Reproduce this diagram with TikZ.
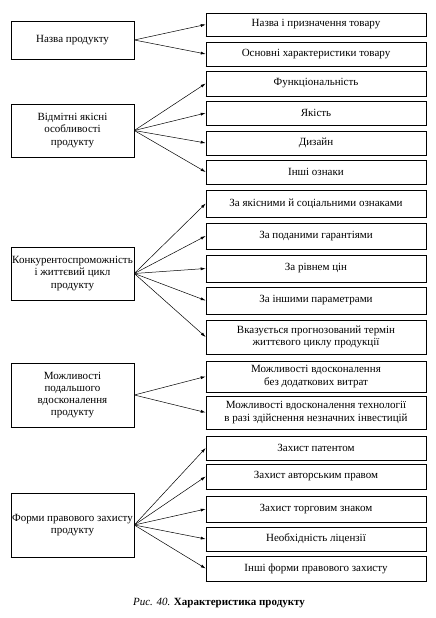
\documentclass[tikz,border=0pt]{standalone}
\usepackage{fontspec}
\setmainfont{Liberation Serif}
\usetikzlibrary{arrows.meta}
\begin{document}
\begin{tikzpicture}[x=1pt,y=-1pt,
  box/.style={draw, line width=0.6pt, inner sep=0pt, align=center, font=\fontsize{11}{12.2}\selectfont},
  lbox/.style={box, minimum width=123pt},
  rbox/.style={box, minimum width=220pt},
  arr/.style={-{Latex[length=5pt,width=3pt]}, line width=0.5pt},
  edgeshade/.style={line width=1.3pt}]
\useasboundingbox (0,0) rectangle (436,618);
% left boxes
\node[lbox, minimum height=38pt] (L1) at (72.5,40) {Назва продукту};
\node[lbox, minimum height=53pt] (L2) at (72.5,130.5) {Відмітні якісні\\особливості\\продукту};
\node[lbox, minimum height=53pt] (L3) at (72.5,273.5) {Конкурентоспроможність\\і життєвий цикл\\продукту};
\node[lbox, minimum height=64pt] (L4) at (72.5,395) {Можливості\\подальшого\\вдосконалення\\продукту};
\node[lbox, minimum height=64pt] (L5) at (72.5,525) {Форми правового захисту\\продукту};
% right boxes
\node[rbox, minimum height=23pt] (R1) at (316,24.5) {Назва і призначення товару};
\node[rbox, minimum height=24pt] (R2) at (316,54) {Основні характеристики товару};
\node[rbox, minimum height=25pt] (R3) at (316,83.5) {Функціональність};
\node[rbox, minimum height=24pt] (R4) at (316,113) {Якість};
\node[rbox, minimum height=24pt] (R5) at (316,143) {Дизайн};
\node[rbox, minimum height=24pt] (R6) at (316,172) {Інші ознаки};
\node[rbox, minimum height=27pt] (R7) at (316,203.5) {За якісними й соціальними ознаками};
\node[rbox, minimum height=26pt] (R8) at (316,236) {За поданими гарантіями};
\node[rbox, minimum height=27pt] (R9) at (316,268.5) {За рівнем цін};
\node[rbox, minimum height=27pt] (R10) at (316,300.5) {За іншими параметрами};
\node[rbox, minimum height=34pt] (R11) at (316,337) {Вказується прогнозований термін\\життєвого циклу продукції};
\node[rbox, minimum height=31pt] (R12) at (316,376.5) {Можливості вдосконалення\\без додаткових витрат};
\node[rbox, minimum height=33pt] (R13) at (316,412.5) {Можливості вдосконалення технології\\в разі здійснення незначних інвестицій};
\node[rbox, minimum height=24pt] (R14) at (316,448) {Захист патентом};
\node[rbox, minimum height=25pt] (R15) at (316,476.5) {Захист авторським правом};
\node[rbox, minimum height=26pt] (R16) at (316,509) {Захист торговим знаком};
\node[rbox, minimum height=24pt] (R17) at (316,539) {Необхідність ліцензії};
\node[rbox, minimum height=25pt] (R18) at (316,568.5) {Інші форми правового захисту};
% thicker bottom/right edges
\foreach \n in {L1,L2,L3,L4,L5,R1,R2,R3,R4,R5,R6,R7,R8,R9,R10,R11,R12,R13,R14,R15,R16,R17,R18}
  \draw[edgeshade] (\n.south west) -- (\n.south east) -- (\n.north east);
% arrows
\foreach \t in {R1,R2} \draw[arr] (L1.east) -- (\t.west);
\foreach \t in {R3,R4,R5,R6} \draw[arr] (L2.east) -- (\t.west);
\foreach \t in {R7,R8,R9,R10,R11} \draw[arr] (L3.east) -- (\t.west);
\foreach \t in {R12,R13} \draw[arr] (L4.east) -- (\t.west);
\foreach \t in {R14,R15,R16,R17,R18} \draw[arr] (L5.east) -- (\t.west);
% caption
\node[font=\fontsize{11}{12}\selectfont] (cap) at (219,603) {\textit{Рис. 40.} \textbf{Характеристика продукту}};
\end{tikzpicture}
\end{document}
